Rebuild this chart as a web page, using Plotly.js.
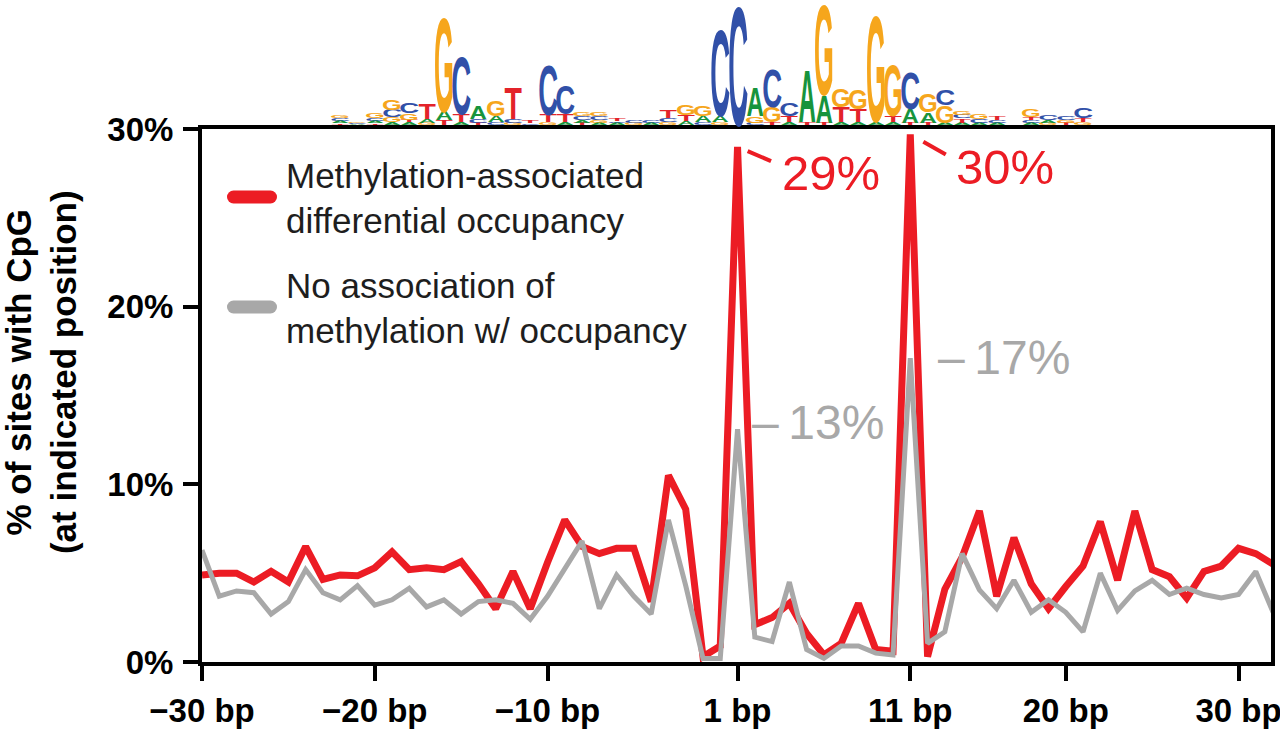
<!DOCTYPE html>
<html>
<head>
<meta charset="utf-8">
<script src="https://cdn.plot.ly/plotly-3.0.1.min.js"></script>
<style>
  html, body { margin: 0; padding: 0; background: #ffffff; }
  #cpgPlot { width: 1280px; height: 731px; }
</style>
</head>
<body>
<div id="cpgPlot"></div>
<script>
// position relative to the motif, in bp
var positions = [
  -30, -29, -28, -27, -26, -25, -24, -23, -22, -21,
  -20, -19, -18, -17, -16, -15, -14, -13, -12, -11,
  -10, -9, -8, -7, -6, -5, -4, -3, -2, -1,
  0, 1, 2, 3, 4, 5, 6, 7, 8, 9,
  10, 11, 12, 13, 14, 15, 16, 17, 18, 19,
  20, 21, 22, 23, 24, 25, 26, 27, 28, 29,
  30, 31, 32,
];

// % of sites with CpG, methylation-associated differential occupancy
var pctMethylAssoc = [
  4.9, 5.0, 5.0, 4.5, 5.1, 4.5, 6.5, 4.65, 4.9, 4.85,
  5.3, 6.2, 5.2, 5.3, 5.2, 5.65, 4.4, 3.0, 5.1, 3.0,
  5.6, 8.0, 6.5, 6.1, 6.4, 6.4, 3.4, 10.5, 8.6, 0.3,
  0.9, 29.0, 2.1, 2.5, 3.3, 1.6, 0.4, 1.05, 3.3, 0.7,
  0.6, 29.7, 0.3, 4.1, 5.9, 8.5, 3.7, 7.0, 4.4, 3.0,
  4.25, 5.4, 7.9, 4.6, 8.5, 5.2, 4.8, 3.6, 5.1, 5.4,
  6.4, 6.1, 5.5,
];

// % of sites with CpG, no association of methylation with occupancy
var pctNoAssoc = [
  6.3, 3.7, 4.0, 3.9, 2.7, 3.4, 5.2, 3.9, 3.5, 4.3,
  3.2, 3.5, 4.15, 3.1, 3.5, 2.7, 3.4, 3.5, 3.3, 2.4,
  3.7, 5.2, 6.8, 3.0, 4.9, 3.7, 2.7, 8.0, 4.3, 0.2,
  0.2, 13.1, 1.4, 1.15, 4.5, 0.7, 0.2, 0.9, 0.9, 0.5,
  0.4, 17.1, 1.05, 1.7, 6.1, 4.06, 3.0, 4.6, 2.8, 3.5,
  2.8, 1.7, 5.0, 2.9, 4.0, 4.6, 3.8, 4.15, 3.8, 3.6,
  3.8, 5.1, 2.8,
];

var tickPositions = [-30, -20, -10, 1, 11, 20, 30];
var tickLabels = ["\u221230 bp", "\u221220 bp", "\u221210 bp", "1 bp", "11 bp", "20 bp", "30 bp"];

// sequence logo above the plot: column position, letters bottom -> top, heights in bits
var logoCols = [
  -22, -21, -20, -19, -18, -17, -16, -15, -14, -13, -12, -11, -10, -9, -8, -7, -6,
  -5, -4, -3, -2, -1, 0, 1, 2, 3, 4, 5, 6, 7, 8, 9, 10, 11, 12, 13,
  14, 15, 16, 18, 19, 20, 21,
];
var logoLetters = [
  "TACG", "ACG", "TACG", "AGCG", "ATGC", "GAT", "TAG", "ATC", "TCA", "CAG", "GCT", "CT", "GTC", "ATC", "TACG", "AGCG", "ACT",
  "GC", "AC", "GCT", "ATG", "CAG", "GAC", "C", "CGA", "TGC", "ATC", "TA", "TAG", "ATG", "ATG", "AG", "ATG", "TAC", "TAG", "AGC",
  "ATCG", "ACG", "ACT", "ACTG", "GAC", "TGC", "GTC",
];
var logoBits = [
  [0.03, 0.04, 0.04, 0.05], [0.02, 0.02, 0.02], [0.03, 0.04, 0.05, 0.08], [0.05, 0.08, 0.12, 0.17],
  [0.05, 0.04, 0.1, 0.18], [0.04, 0.06, 0.26], [0.08, 0.14, 1.57], [0.05, 0.13, 0.97],
  [0.04, 0.06, 0.22], [0.05, 0.1, 0.25], [0.04, 0.06, 0.53], [0.03, 0.05],
  [0.05, 0.12, 0.83], [0.05, 0.13, 0.47], [0.04, 0.05, 0.06, 0.07], [0.04, 0.05, 0.06, 0.06],
  [0.03, 0.03, 0.04],
  [0.04, 0.04], [0.03, 0.04], [0.05, 0.07, 0.13], [0.06, 0.1, 0.17], [0.05, 0.1, 0.17],
  [0.05, 0.1, 1.45], [2.0], [0.04, 0.1, 0.47], [0.05, 0.25, 0.63], [0.05, 0.1, 0.22],
  [0.05, 0.88], [0.04, 0.45, 1.5], [0.05, 0.25, 0.3], [0.05, 0.22, 0.33], [0.05, 1.78],
  [0.05, 0.1, 0.85], [0.04, 0.23, 0.62], [0.04, 0.17, 0.3], [0.04, 0.28, 0.25],
  [0.04, 0.07, 0.06, 0.06], [0.04, 0.06, 0.08], [0.04, 0.04, 0.07], [0.04, 0.05, 0.04, 0.12],
  [0.04, 0.04, 0.08], [0.04, 0.05, 0.07], [0.05, 0.07, 0.17],
];

var RED = "#ec1c24";
var GREY = "#a8a8a8";
var FONT = "Liberation Sans, Arial, Helvetica, sans-serif";
var letterColor = { A: "#17943c", C: "#3150a8", G: "#f6a61c", T: "#e3232a" };
var letterStretchX = { A: 1.2, C: 1.38, G: 1.27, T: 1.42 };
var PX_PER_BIT = 61;
var LOGO_FONT = 20;

var trace1 = {
  x: positions,
  y: pctMethylAssoc,
  name: "Methylation-associated<br>differential occupancy",
  type: "scatter",
  mode: "lines",
  line: { color: RED, width: 7 },
  legendgroup: "assoc",
};

var trace2 = {
  x: positions,
  y: pctNoAssoc,
  name: "No association of<br>methylation w/ occupancy",
  type: "scatter",
  mode: "lines",
  line: { color: GREY, width: 5 },
  legendgroup: "noassoc",
};

// peaks for the labels
var iPeak1 = positions.indexOf(1);
var iPeak11 = positions.indexOf(11);

var annotations = [
  {
    x: 0.0, y: 0.544, xref: "paper", yref: "paper", xshift: -161,
    text: "<b>% of sites with CpG<br>(at indicated position)</b>",
    textangle: -90, showarrow: false, xanchor: "center", yanchor: "middle",
    font: { family: FONT, size: 35, color: "#000" },
  },
  // connector ticks next to the red peaks
  {
    x: positions[iPeak1], y: pctMethylAssoc[iPeak1], text: "",
    showarrow: true, arrowhead: 0, arrowwidth: 4, arrowcolor: RED,
    ax: 35, ay: 15, standoff: 11,
  },
  {
    x: positions[iPeak11], y: pctMethylAssoc[iPeak11], text: "",
    showarrow: true, arrowhead: 0, arrowwidth: 4, arrowcolor: RED,
    ax: 37, ay: 21, standoff: 15,
  },
  {
    x: positions[iPeak1] + 5.41, y: 27.5, text: Math.round(pctMethylAssoc[iPeak1]) + "%",
    showarrow: false, font: { family: FONT, size: 49, color: RED },
  },
  {
    x: positions[iPeak11] + 5.48, y: 27.86, text: Math.round(pctMethylAssoc[iPeak11]) + "%",
    showarrow: false, font: { family: FONT, size: 49, color: RED },
  },
  {
    x: positions[iPeak1] + 4.66, y: 13.5, text: "\u2013\u2009" + Math.round(pctNoAssoc[iPeak1]) + "%",
    showarrow: false, font: { family: FONT, size: 48, color: GREY },
  },
  {
    x: positions[iPeak11] + 5.43, y: 17.16, text: "\u2013\u2009" + Math.round(pctNoAssoc[iPeak11]) + "%",
    showarrow: false, font: { family: FONT, size: 48, color: GREY },
  },
];

// logo letters as annotations, stretched after drawing
var logoMeta = [];
for (var c = 0; c < logoCols.length; c++) {
  var below = 0;
  for (var k = 0; k < logoLetters[c].length; k++) {
    var ch = logoLetters[c][k];
    var h = logoBits[c][k] * PX_PER_BIT;
    logoMeta[annotations.length] = { ch: ch, offset: below, height: h };
    annotations.push({
      x: logoCols[c], y: 1, xref: "x", yref: "paper", yanchor: "bottom",
      text: "<b>" + ch + "</b>", showarrow: false,
      font: { family: FONT, size: LOGO_FONT, color: letterColor[ch] },
    });
    below += h;
  }
}

var axisCommon = {
  ticks: "outside",
  ticklen: 15,
  tickwidth: 4,
  tickcolor: "#000",
  showline: true,
  linewidth: 4,
  linecolor: "#000",
  mirror: true,
  showgrid: false,
  zeroline: false,
  ticklabeloverflow: "allow",
  tickfont: { family: FONT, size: 33, color: "#000", weight: "bold" },
};

var layout = {
  width: 1280,
  height: 731,
  paper_bgcolor: "#ffffff",
  plot_bgcolor: "#ffffff",
  margin: { l: 202, r: 9, t: 129, b: 69, pad: 0 },
  font: { family: FONT, color: "#000" },
  showlegend: true,
  legend: {
    x: 0.0187, y: 0.97, xanchor: "left", yanchor: "top",
    font: { family: FONT, size: 35, color: "#1e1e1e" },
    itemwidth: 54,
    tracegroupgap: 16,
    bgcolor: "rgba(0,0,0,0)",
  },
  xaxis: Object.assign({}, axisCommon, {
    range: [-30, 31.88],
    tickvals: tickPositions,
    ticktext: tickLabels,
    ticklabelstandoff: 1,
  }),
  yaxis: Object.assign({}, axisCommon, {
    range: [0, 30],
    tickvals: [0, 10, 20, 30],
    ticktext: ["0%", "10%", "20%", "30%"],
    ticklabelstandoff: 3,
  }),
  annotations: annotations,
};

var config = { displayModeBar: false, staticPlot: true };

function stretchLogo(gd) {
  var baseY = gd._fullLayout.margin.t - 4;
  var capH = 0.72 * LOGO_FONT;
  var groups = gd.querySelectorAll("g.annotation");
  groups.forEach(function (g) {
    var idx = parseInt(g.getAttribute("data-index"), 10);
    var m = logoMeta[idx];
    if (!m) return;
    var t = g.querySelector("text");
    if (!t) return;
    var bb = t.getBBox();
    var ctm = t.getCTM();
    var yb = parseFloat(t.getAttribute("y")) || 0;
    var cx = bb.x + bb.width / 2;
    var screenBase = ctm.f + ctm.d * yb;
    var targetBase = yb + (baseY - m.offset - screenBase) / ctm.d;
    var sy = m.height / capH;
    var sx = letterStretchX[m.ch];
    t.setAttribute(
      "transform",
      "translate(" + cx + "," + targetBase + ") scale(" + sx + "," + sy + ") translate(" + -cx + "," + -yb + ")"
    );
  });
}

// legend keys in the original are thick, short and rounded
function styleLegendKeys(gd) {
  gd.querySelectorAll(".legendlines path").forEach(function (p) {
    p.setAttribute("d", "M11.5,0h37");
    p.style.strokeWidth = "13px";
    p.style.strokeLinecap = "round";
  });
}

var gd = document.getElementById("cpgPlot");
Plotly.newPlot(gd, [trace1, trace2], layout, config).then(function () {
  stretchLogo(gd);
  styleLegendKeys(gd);
});
</script>
</body>
</html>
